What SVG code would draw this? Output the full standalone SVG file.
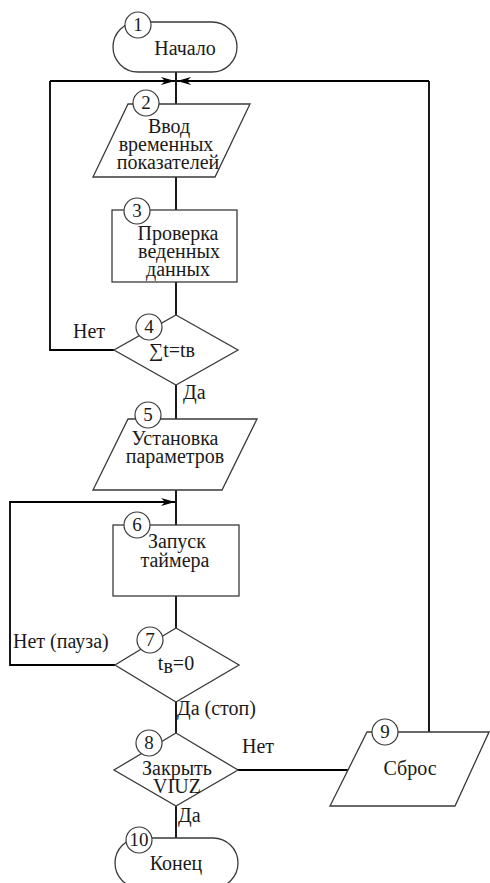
<svg xmlns="http://www.w3.org/2000/svg" width="490" height="883" viewBox="0 0 490 883">
<defs>
<style>
.shape{fill:#fff;stroke:#3a3a3a;stroke-width:1.3}
.num{fill:#fff;stroke:#3a3a3a;stroke-width:1.2}
.conn{fill:none;stroke:#000;stroke-width:1.8}
text{font-family:"Liberation Serif","DejaVu Serif",serif;font-size:20px;fill:#1a1a1a}
.c{text-anchor:middle}
.n{font-size:19px;text-anchor:middle}
</style>
<marker id="arr" viewBox="0 0 14 8" refX="14" refY="4" markerWidth="14" markerHeight="8" markerUnits="userSpaceOnUse" orient="auto">
<path d="M0,0 L14,4 L0,8 L4,4 Z" fill="#000"/>
</marker>
</defs>
<rect width="490" height="883" fill="#fff"/>
<g id="connectors">
<line class="conn" x1="176" y1="72" x2="176" y2="104"/>
<line class="conn" x1="50" y1="81" x2="175" y2="81" marker-end="url(#arr)"/>
<line class="conn" x1="429" y1="81" x2="177" y2="81" marker-end="url(#arr)"/>
<line class="conn" x1="176" y1="177" x2="176" y2="210"/>
<line class="conn" x1="176" y1="282" x2="176" y2="315"/>
<polyline class="conn" points="114,350 50,350 50,81"/>
<line class="conn" x1="176" y1="385" x2="176" y2="419"/>
<line class="conn" x1="176" y1="490" x2="176" y2="525"/>
<polyline class="conn" points="115,665 10,665 10,502 175,502" marker-end="url(#arr)"/>
<line class="conn" x1="176" y1="596" x2="176" y2="628"/>
<line class="conn" x1="176" y1="702" x2="176" y2="733"/>
<line class="conn" x1="238" y1="770" x2="348" y2="770"/>
<line class="conn" x1="429" y1="732" x2="429" y2="81"/>
<line class="conn" x1="176" y1="806" x2="176" y2="838"/>
<text x="73" y="338">Нет</text>
<text x="183" y="399">Да</text>
<text x="13" y="648">Нет (пауза)</text>
<text x="177" y="715">Да (стоп)</text>
<text x="242" y="753">Нет</text>
<text x="178" y="822">Да</text>
</g>
<g id="node1">
<rect class="shape" x="113" y="22" width="124" height="50" rx="25"/>
<circle class="num" cx="138" cy="25" r="13"/>
<text class="n" x="138" y="31">1</text>
<text class="c" x="185" y="55">Начало</text>
</g>
<g id="node2">
<polygon class="shape" points="128,104 250,104 215,177 93,177"/>
<circle class="num" cx="146" cy="103" r="13"/>
<text class="n" x="146" y="109">2</text>
<text class="c" x="169" y="133">Ввод</text>
<text class="c" x="166" y="151">временных</text>
<text class="c" x="168" y="169">показателей</text>
</g>
<g id="node3">
<rect class="shape" x="112" y="210" width="125" height="72"/>
<circle class="num" cx="137" cy="211" r="13"/>
<text class="n" x="137" y="217">3</text>
<text class="c" x="178" y="240">Проверка</text>
<text class="c" x="179" y="258">веденных</text>
<text class="c" x="178" y="276">данных</text>
</g>
<g id="node4">
<polygon class="shape" points="176,315 238,350 176,385 114,350"/>
<circle class="num" cx="149" cy="327" r="13"/>
<text class="n" x="149" y="333">4</text>
<text class="c" x="172" y="357">∑t=tв</text>
</g>
<g id="node5">
<polygon class="shape" points="128,419 257,419 222,490 93,490"/>
<circle class="num" cx="148" cy="415" r="13"/>
<text class="n" x="148" y="421">5</text>
<text class="c" x="175" y="445">Установка</text>
<text class="c" x="175" y="463">параметров</text>
</g>
<g id="node6">
<rect class="shape" x="113" y="525" width="126" height="71"/>
<circle class="num" cx="137" cy="525" r="13"/>
<text class="n" x="137" y="531">6</text>
<text class="c" x="177" y="548">Запуск</text>
<text class="c" x="175" y="567">таймера</text>
</g>
<g id="node7">
<polygon class="shape" points="176,628 239,665 176,702 115,665"/>
<circle class="num" cx="150" cy="640" r="13"/>
<text class="n" x="150" y="646">7</text>
<text class="c" x="176" y="670">t<tspan dy="3">в</tspan><tspan dy="-3">=0</tspan></text>
</g>
<g id="node8">
<polygon class="shape" points="176,733 238,770 176,806 114,770"/>
<circle class="num" cx="149" cy="743" r="13"/>
<text class="n" x="149" y="749">8</text>
<text class="c" x="177" y="775">Закрыть</text>
<text class="c" x="177" y="793">VIUZ</text>
</g>
<g id="node9">
<polygon class="shape" points="367,732 489,732 455,806 330,806"/>
<circle class="num" cx="385" cy="732" r="13"/>
<text class="n" x="385" y="738">9</text>
<text class="c" x="410" y="775">Сброс</text>
</g>
<g id="node10">
<rect class="shape" x="115" y="838" width="123" height="50" rx="25"/>
<circle class="num" cx="139" cy="840" r="13"/>
<text class="n" x="139" y="846">10</text>
<text class="c" x="176" y="870">Конец</text>
</g>
</svg>
